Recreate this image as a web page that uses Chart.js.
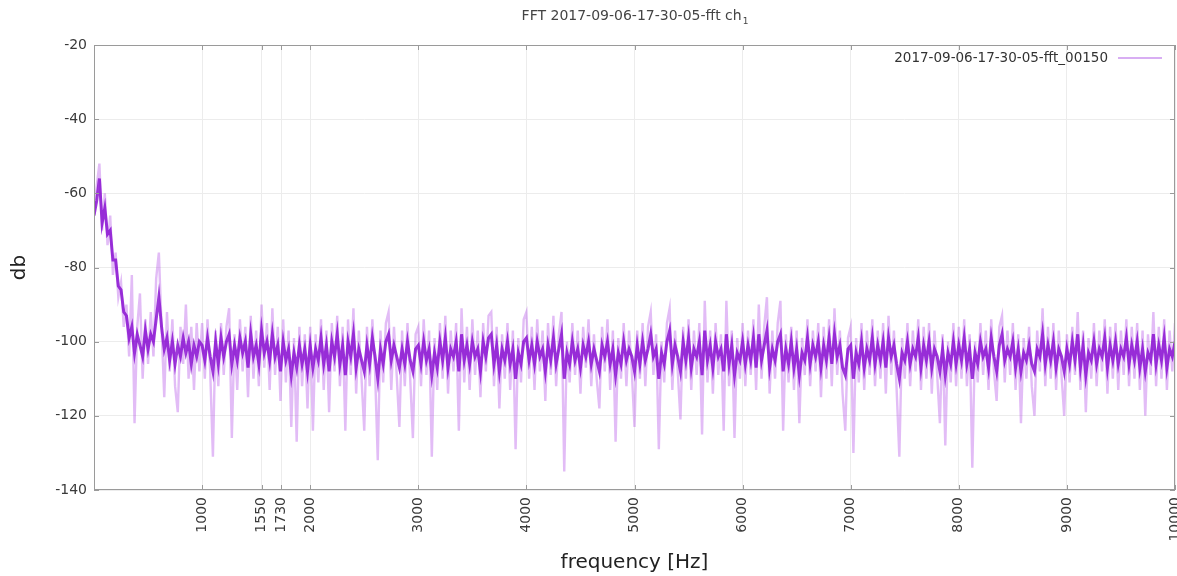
<!DOCTYPE html>
<html>
<head>
<meta charset="utf-8">
<script src="https://cdn.jsdelivr.net/npm/chart.js@4"></script>
<style>
  body { margin: 0; background: #fff; }
  #wrap { width: 1177px; height: 576px; }
</style>
</head>
<body>
<div id="wrap"><canvas id="fft"></canvas></div>
<script>
const titleMain = 'FFT 2017-09-06-17-30-05-fft ch';
const titleSub = '1';
const seriesName = '2017-09-06-17-30-05-fft_00150';
const binHz = 25;
const xTicks = [1000, 1550, 1730, 2000, 3000, 4000, 5000, 6000, 7000, 8000, 9000, 10000];
const yTicks = [-140, -120, -100, -80, -60, -40, -20];

// light trace: full spread of the spectrum, one row per 1000 Hz
const lightDb = [
  -66,-58,-52,-70,-60,-74,-66,-82,-76,-88,-84,-96,-90,-104,-82,-122,-96,-87,-110,-94,-106,-92,-104,-83,-76,-96,-115,-92,-108,-94,-112,-119,-96,-106,-90,-110,-96,-113,-95,-108,
  -95,-110,-94,-108,-131,-97,-112,-95,-109,-96,-91,-126,-98,-113,-94,-108,-96,-115,-93,-110,-97,-112,-90,-107,-95,-113,-91,-109,-96,-116,-94,-111,-97,-123,-99,-127,-96,-112,-98,-118,
  -96,-124,-98,-111,-94,-113,-97,-119,-95,-108,-93,-112,-96,-124,-94,-109,-91,-114,-97,-110,-124,-96,-112,-94,-108,-132,-97,-111,-95,-92,-113,-96,-109,-123,-97,-112,-95,-110,-126,-98,
  -96,-112,-94,-109,-97,-131,-99,-113,-95,-110,-93,-114,-97,-108,-95,-124,-91,-111,-96,-113,-94,-109,-97,-115,-95,-108,-93,-92,-112,-96,-118,-98,-110,-95,-113,-97,-129,-99,-111,-94,
  -92,-110,-96,-113,-94,-108,-97,-116,-95,-109,-93,-112,-98,-92,-135,-100,-111,-95,-109,-97,-114,-96,-107,-94,-112,-98,-110,-118,-96,-108,-94,-113,-97,-127,-99,-110,-95,-112,-97,-108,
  -123,-97,-110,-95,-112,-96,-92,-109,-98,-129,-100,-111,-95,-91,-113,-97,-108,-121,-96,-110,-94,-113,-97,-109,-95,-125,-89,-111,-97,-114,-95,-109,-98,-124,-89,-112,-97,-126,-99,-110,
  -95,-112,-97,-109,-94,-113,-90,-110,-96,-88,-114,-97,-110,-95,-89,-124,-98,-111,-96,-113,-97,-122,-99,-109,-94,-112,-97,-108,-95,-115,-96,-110,-94,-112,-91,-109,-97,-114,-124,-99,
  -96,-130,-99,-111,-95,-113,-97,-109,-94,-112,-97,-110,-95,-114,-93,-109,-97,-113,-131,-99,-110,-95,-112,-97,-108,-94,-113,-96,-110,-95,-114,-97,-109,-122,-98,-128,-100,-111,-95,-112,
  -96,-110,-94,-112,-98,-134,-100,-111,-95,-109,-97,-113,-94,-108,-116,-96,-93,-111,-97,-109,-95,-113,-98,-122,-99,-110,-96,-112,-120,-97,-108,-91,-112,-96,-110,-95,-113,-97,-109,-120,
  -98,-111,-96,-109,-92,-113,-97,-119,-99,-110,-95,-112,-97,-108,-94,-114,-96,-110,-95,-113,-97,-109,-94,-112,-96,-110,-95,-113,-97,-120,-98,-109,-92,-112,-96,-110,-94,-113,-97,-108,-95
];

// dark core of the trace
const coreDb = [
  -66,-62,-56,-68,-64,-71,-70,-78,-78,-85,-86,-92,-93,-99,-96,-103,-98,-101,-104,-97,-102,-98,-100,-94,-88,-96,-102,-99,-105,-100,-106,-101,-104,-99,-103,-100,-106,-101,-104,-100,
  -101,-105,-99,-104,-108,-100,-106,-99,-104,-100,-98,-106,-101,-105,-99,-103,-100,-107,-98,-104,-101,-106,-97,-103,-100,-105,-98,-104,-101,-108,-100,-105,-102,-109,-103,-107,-101,-106,-102,-108,
  -101,-107,-102,-105,-99,-106,-101,-108,-100,-104,-98,-106,-101,-109,-100,-104,-98,-107,-102,-105,-108,-101,-106,-99,-104,-110,-102,-106,-100,-98,-105,-101,-104,-107,-102,-106,-100,-105,-108,-102,
  -101,-106,-100,-105,-102,-109,-103,-107,-100,-105,-99,-107,-102,-104,-100,-108,-98,-105,-101,-106,-100,-104,-102,-108,-100,-104,-99,-98,-106,-101,-108,-102,-105,-100,-106,-102,-110,-103,-106,-100,
  -99,-105,-101,-106,-100,-104,-102,-108,-101,-105,-99,-106,-102,-98,-110,-103,-106,-100,-105,-102,-107,-101,-104,-100,-106,-102,-105,-108,-101,-104,-100,-106,-102,-109,-103,-106,-100,-105,-102,-104,
  -108,-101,-106,-100,-105,-102,-98,-104,-102,-110,-103,-106,-100,-97,-106,-101,-104,-108,-100,-105,-99,-107,-102,-104,-100,-109,-97,-105,-101,-107,-100,-104,-102,-108,-98,-106,-101,-109,-103,-105,
  -100,-106,-101,-105,-99,-107,-98,-105,-101,-97,-107,-102,-105,-100,-98,-108,-102,-106,-100,-107,-102,-109,-103,-105,-99,-106,-101,-104,-100,-107,-101,-105,-99,-106,-98,-104,-101,-107,-109,-102,
  -101,-110,-103,-106,-100,-107,-102,-105,-99,-106,-101,-105,-100,-107,-99,-104,-101,-106,-110,-103,-105,-100,-106,-102,-104,-99,-107,-101,-105,-100,-107,-102,-104,-108,-102,-109,-103,-106,-100,-106,
  -101,-105,-99,-106,-102,-110,-103,-106,-100,-104,-102,-107,-99,-104,-108,-101,-98,-105,-102,-104,-100,-107,-102,-108,-103,-105,-101,-106,-108,-102,-104,-98,-106,-101,-105,-100,-107,-102,-104,-108,
  -102,-106,-100,-105,-98,-107,-101,-109,-103,-105,-100,-106,-102,-104,-99,-107,-101,-105,-100,-106,-102,-104,-99,-106,-101,-105,-100,-107,-102,-108,-103,-105,-98,-106,-101,-105,-99,-107,-102,-104,-100
];

const toPoints = arr => arr.map((v, i) => ({ x: i * binHz, y: v }));

const font = 'DejaVu Sans, Verdana, sans-serif';
const lightColor = 'rgba(175,70,230,0.36)';
const coreColor = 'rgba(132,8,208,0.8)';

// gnuplot style frame: full border, inward ticks, title over the plot and key inside top right
const framePlugin = {
  id: 'frame',
  afterDraw(chart) {
    const { ctx, chartArea: a, scales } = chart;
    ctx.save();
    ctx.strokeStyle = '#9a9a9a';
    ctx.lineWidth = 1;
    ctx.strokeRect(a.left + 0.5, a.top + 0.5, a.right - a.left - 1, a.bottom - a.top - 1);
    ctx.beginPath();
    xTicks.forEach(t => {
      const px = Math.round(scales.x.getPixelForValue(t)) + 0.5;
      ctx.moveTo(px, a.bottom); ctx.lineTo(px, a.bottom - 5);
      ctx.moveTo(px, a.top); ctx.lineTo(px, a.top + 5);
    });
    yTicks.forEach(t => {
      const py = Math.round(scales.y.getPixelForValue(t)) + 0.5;
      ctx.moveTo(a.left, py); ctx.lineTo(a.left + 5, py);
      ctx.moveTo(a.right, py); ctx.lineTo(a.right - 5, py);
    });
    ctx.stroke();

    // title with subscript
    ctx.fillStyle = '#444';
    ctx.textBaseline = 'alphabetic';
    ctx.font = '14px ' + font;
    const wMain = ctx.measureText(titleMain).width;
    ctx.font = '9px ' + font;
    const wSub = ctx.measureText(titleSub).width;
    const tx = (a.left + a.right) / 2 - (wMain + wSub) / 2;
    ctx.textAlign = 'left';
    ctx.font = '14px ' + font;
    ctx.fillText(titleMain, tx, 20);
    ctx.font = '9px ' + font;
    ctx.fillText(titleSub, tx + wMain + 1, 24);

    // key
    const ky = a.top + 13;
    ctx.font = '13.5px ' + font;
    ctx.fillStyle = '#333';
    ctx.textAlign = 'right';
    ctx.textBaseline = 'middle';
    ctx.fillText(seriesName, a.right - 67, ky);
    ctx.strokeStyle = 'rgba(190,120,235,0.6)';
    ctx.lineWidth = 2;
    ctx.beginPath();
    ctx.moveTo(a.right - 57, ky); ctx.lineTo(a.right - 13, ky);
    ctx.stroke();
    ctx.restore();
  }
};

new Chart(document.getElementById('fft'), {
  type: 'line',
  data: {
    datasets: [
      { label: seriesName, data: toPoints(coreDb), borderColor: coreColor, borderWidth: 3, order: 0 },
      { label: seriesName, data: toPoints(lightDb), borderColor: lightColor, borderWidth: 2.4, order: 1 }
    ]
  },
  options: {
    responsive: true, maintainAspectRatio: false, animation: false,
    layout: { padding: { top: 45, right: 2, left: 0, bottom: 0 } },
    elements: { point: { radius: 0 }, line: { tension: 0, borderJoinStyle: 'miter' } },
    plugins: {
      tooltip: { enabled: false },
      legend: { display: false },
      title: { display: false }
    },
    scales: {
      x: {
        type: 'linear', min: 0, max: 10000,
        afterBuildTicks: s => { s.ticks = xTicks.map(v => ({ value: v })); },
        afterFit: s => { s.height = 86; s.paddingLeft = 0; s.paddingRight = 0; },
        ticks: {
          color: '#3a3a3a', font: { family: font, size: 14 },
          minRotation: 90, maxRotation: 90, padding: 7, autoSkip: false,
          callback: v => String(v)
        },
        grid: { color: '#ececec', drawTicks: false },
        border: { display: false },
        title: { display: true, text: 'frequency [Hz]', color: '#222', font: { family: font, size: 20 }, padding: { top: 0, bottom: 1 } }
      },
      y: {
        min: -140, max: -20,
        afterBuildTicks: s => { s.ticks = yTicks.map(v => ({ value: v })); },
        afterFit: s => { s.width = 94; },
        ticks: { color: '#3a3a3a', font: { family: font, size: 14 }, padding: 7, callback: v => String(v) },
        grid: { color: '#ececec', drawTicks: false },
        border: { display: false },
        title: { display: true, text: 'db', color: '#222', font: { family: font, size: 20 }, padding: { top: 8, bottom: 0 } }
      }
    }
  },
  plugins: [framePlugin]
});
</script>
</body>
</html>
